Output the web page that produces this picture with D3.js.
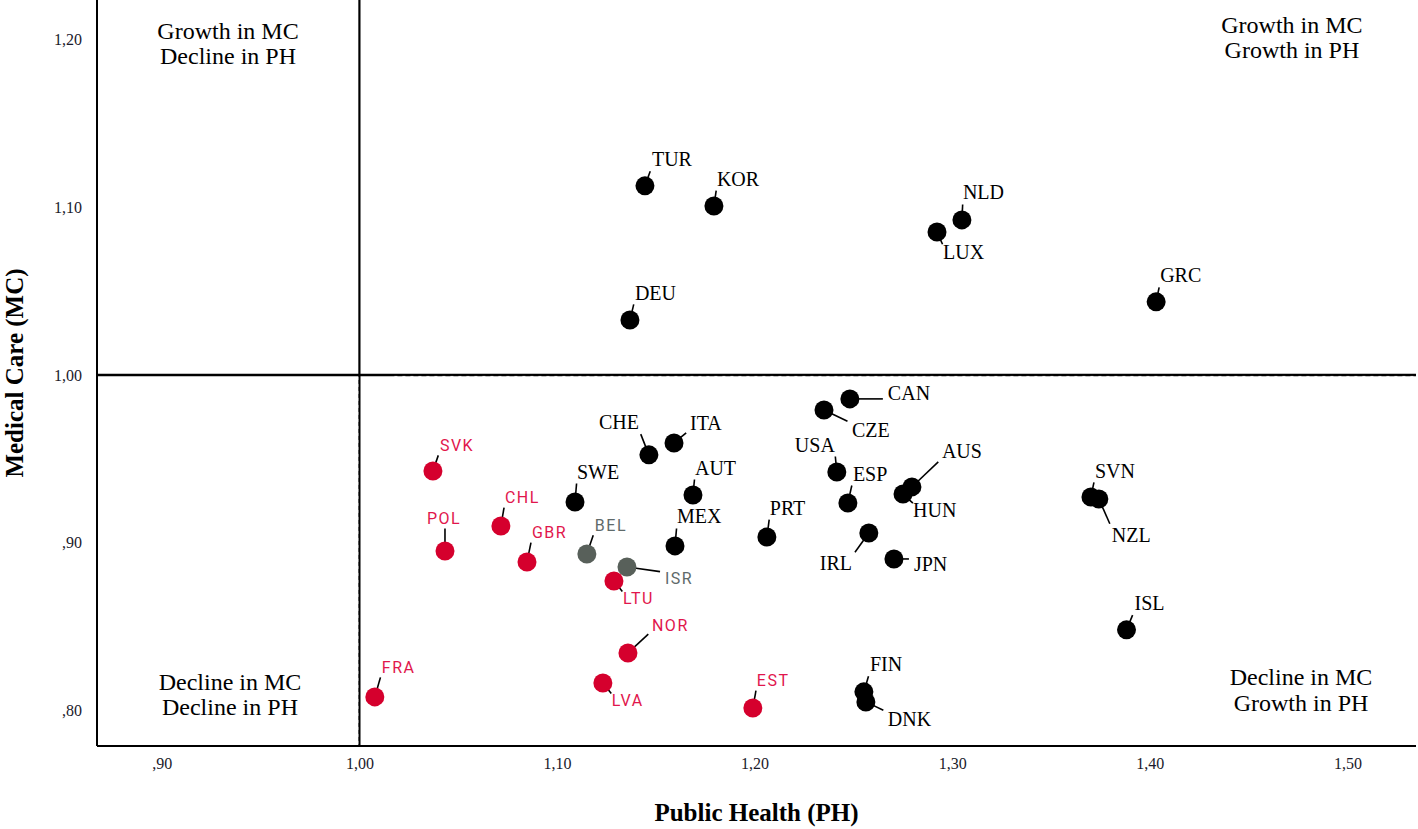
<!DOCTYPE html>
<html>
<head>
<meta charset="utf-8">
<script src="https://cdn.jsdelivr.net/npm/d3@7"></script>
<style>
  html, body { margin: 0; padding: 0; background: #fff; }
  svg { display: block; }
</style>
</head>
<body>
<svg id="chart" width="1418" height="829"></svg>
<script>
// ---------- DATA ----------
const countries = ["TUR","KOR","NLD","LUX","GRC","DEU","CAN","CZE","ITA","CHE","SVK","USA","AUT","AUS","HUN","SWE","ESP","SVN","NZL","CHL","PRT","IRL","MEX","POL","BEL","JPN","GBR","ISR","LTU","ISL","NOR","LVA","FRA","EST","FIN","DNK"];
const publicHealth = [1.1445,1.1794,1.3049,1.2923,1.4032,1.1369,1.2482,1.2351,1.1592,1.1465,1.0372,1.2416,1.1688,1.2796,1.2751,1.1091,1.2472,1.3702,1.3742,1.0716,1.2062,1.2578,1.1597,1.0433,1.1151,1.2705,1.0848,1.1354,1.1288,1.3882,1.1359,1.1232,1.0078,1.1991,1.2553,1.2563];
const medicalCare  = [1.1128,1.1008,1.0925,1.0853,1.0436,1.0328,0.9857,0.9791,0.9594,0.9523,0.9427,0.9421,0.9284,0.9332,0.9290,0.9242,0.9236,0.9272,0.9260,0.9099,0.9033,0.9057,0.8980,0.8950,0.8932,0.8902,0.8884,0.8854,0.8771,0.8479,0.8341,0.8162,0.8079,0.8013,0.8109,0.8049];
const groups = ["a","a","a","a","a","a","a","a","a","a","c","a","a","a","a","a","a","a","a","c","a","a","a","c","b","a","c","b","c","a","c","c","c","c","a","a"];
const xTicks = [0.9,1.0,1.1,1.2,1.3,1.4,1.5];
const yTicks = [0.8,0.9,1.0,1.1,1.2];
const quadrantLabels = [
  {lines:["Growth in MC","Decline in PH"], x:0.9335, y:1.2055},
  {lines:["Growth in MC","Growth in PH"],  x:1.4719, y:1.2090},
  {lines:["Decline in MC","Decline in PH"], x:0.9345, y:0.8170},
  {lines:["Decline in MC","Growth in PH"],  x:1.4765, y:0.8195}
];

// ---------- LAYOUT (label offsets, px) ----------
const labelOffset = {
  TUR:[7,-26], KOR:[3,-27], NLD:[1,-27], LUX:[6,20], GRC:[4,-26], DEU:[5,-27],
  CAN:[38,-5], CZE:[28,20], ITA:[16,-20], CHE:[-50,-32], SVK:[7,-26], USA:[-42,-27],
  AUT:[2,-27], AUS:[30,-35], HUN:[10,16], SWE:[2,-30], ESP:[5,-29], SVN:[4,-26],
  NZL:[13,36], CHL:[4,-29], PRT:[3,-29], IRL:[-49,30], MEX:[2,-29], POL:[-18,-33],
  BEL:[8,-29], JPN:[20,5], GBR:[5,-30], ISR:[38,11], LTU:[9,17], ISL:[8,-26],
  NOR:[24,-28], LVA:[9,17], FRA:[7,-30], EST:[4,-28], FIN:[6,-27], DNK:[22,17]
};

const data = countries.map((c,i)=>({c, x:publicHealth[i], y:medicalCare[i], g:groups[i]}));

const dotColor = {a:"#000000", b:"#58605a", c:"#d5002d"};
const textColor = {a:"#000000", b:"#5f6a6a", c:"#e1164c"};

const svg = d3.select("#chart");
const margin = {left:97, top:0, right:2, bottom:83};
const W = 1418, H = 829;
const iw = W - margin.left - margin.right, ih = H - margin.top - margin.bottom;

const x = d3.scaleLinear().domain([0.8672, 1.5347]).range([0, iw]);
const y = d3.scaleLinear().domain([0.7786, 1.2237]).range([ih, 0]);

const g = svg.append("g").attr("transform", `translate(${margin.left},${margin.top})`);

const fmt = v => { let s = d3.format(".2f")(v).replace(".", ","); if (s.startsWith("0")) s = s.slice(1); return s; };

// axes
const xAxis = g.append("g").attr("transform", `translate(0,${ih})`)
  .call(d3.axisBottom(x).tickValues(xTicks).tickSize(0).tickPadding(12).tickFormat(fmt));
const yAxis = g.append("g")
  .call(d3.axisLeft(y).tickValues(yTicks).tickSize(0).tickPadding(15).tickFormat(fmt));
[xAxis, yAxis].forEach(a => {
  a.select(".domain").attr("stroke", "#000").attr("stroke-width", 2);
  a.selectAll("text").attr("font-family", "'Liberation Serif', 'Times New Roman', serif")
    .attr("font-size", 16).attr("fill", "#1a1a2a");
});
// extend domain lines to full extents
xAxis.select(".domain").attr("d", `M0,0H${iw}`);
yAxis.select(".domain").attr("d", `M0,0V${ih}`);

// reference lines at 1.00
const x1 = x(1.0), y1 = y(1.0);
g.append("line").attr("x1", x1).attr("x2", x1).attr("y1", 0).attr("y2", ih)
  .attr("stroke", "#000").attr("stroke-width", 2.2);
g.append("line").attr("x1", x1 - 1.5).attr("x2", x1 - 1.5).attr("y1", y1 + 2).attr("y2", ih)
  .attr("stroke", "#fff").attr("stroke-width", 0.8).attr("stroke-dasharray", "3,4");
g.append("line").attr("x1", 0).attr("x2", iw).attr("y1", y1).attr("y2", y1)
  .attr("stroke", "#000").attr("stroke-width", 2.4);
g.append("line").attr("x1", x1 + 35).attr("x2", iw).attr("y1", y1 + 1.5).attr("y2", y1 + 1.5)
  .attr("stroke", "#fff").attr("stroke-width", 0.8).attr("stroke-dasharray", "3,5");

// quadrant labels
quadrantLabels.forEach(q => {
  const t = g.append("text").attr("text-anchor", "middle")
    .attr("font-family", "'Liberation Serif', 'Times New Roman', serif")
    .attr("font-size", 24).attr("fill", "#000");
  q.lines.forEach((l, i) => {
    t.append("tspan").attr("x", x(q.x)).attr("y", y(q.y) + 8 + i * 25.5).text(l);
  });
});

// points
const R = 9.5;
g.selectAll("circle.pt").data(data).join("circle").attr("class", "pt")
  .attr("cx", d => x(d.x)).attr("cy", d => y(d.y)).attr("r", R)
  .attr("fill", d => dotColor[d.g]);

// labels + leaders
const leaderG = g.insert("g", "circle.pt");
data.forEach(d => {
  const px = x(d.x), py = y(d.y);
  const [dx, dy] = labelOffset[d.c];
  const serif = d.g === "a";
  const fs = serif ? 20 : 16;
  const cap = serif ? fs * 0.66 : fs * 0.71;
  const t = g.append("text")
    .attr("x", px + dx).attr("y", py + dy + cap / 2)
    .attr("font-family", serif ? "'Liberation Serif', 'Times New Roman', serif" : "Roboto, 'Liberation Sans', sans-serif")
    .attr("font-size", fs)
    .attr("letter-spacing", serif ? 0 : 1.5)
    .attr("fill", textColor[d.g])
    .text(d.c);
  const w = t.node().getComputedTextLength();
  const bx0 = px + dx, bx1 = bx0 + w, by0 = py + dy - cap / 2, by1 = py + dy + cap / 2;
  const nx = Math.max(bx0, Math.min(px, bx1)), ny = Math.max(by0, Math.min(py, by1));
  const vx = nx - px, vy = ny - py, len = Math.hypot(vx, vy);
  if (len > R + 4) {
    const ux = vx / len, uy = vy / len;
    const end = Math.max(R + 4, len - 5);
    leaderG.append("line")
      .attr("x1", px + ux * (R - 2)).attr("y1", py + uy * (R - 2))
      .attr("x2", px + ux * end).attr("y2", py + uy * end)
      .attr("stroke", "#000").attr("stroke-width", 1.6);
  }
});

// axis titles
svg.append("text").attr("x", margin.left + iw / 2).attr("y", 821).attr("text-anchor", "middle")
  .attr("font-family", "'Liberation Serif', 'Times New Roman', serif").attr("font-weight", "bold")
  .attr("font-size", 25).attr("fill", "#000").text("Public Health (PH)");
svg.append("text").attr("transform", `translate(23,${margin.top + ih / 2}) rotate(-90)`)
  .attr("text-anchor", "middle")
  .attr("font-family", "'Liberation Serif', 'Times New Roman', serif").attr("font-weight", "bold")
  .attr("font-size", 25).attr("fill", "#000").text("Medical Care (MC)");
</script>
</body>
</html>
